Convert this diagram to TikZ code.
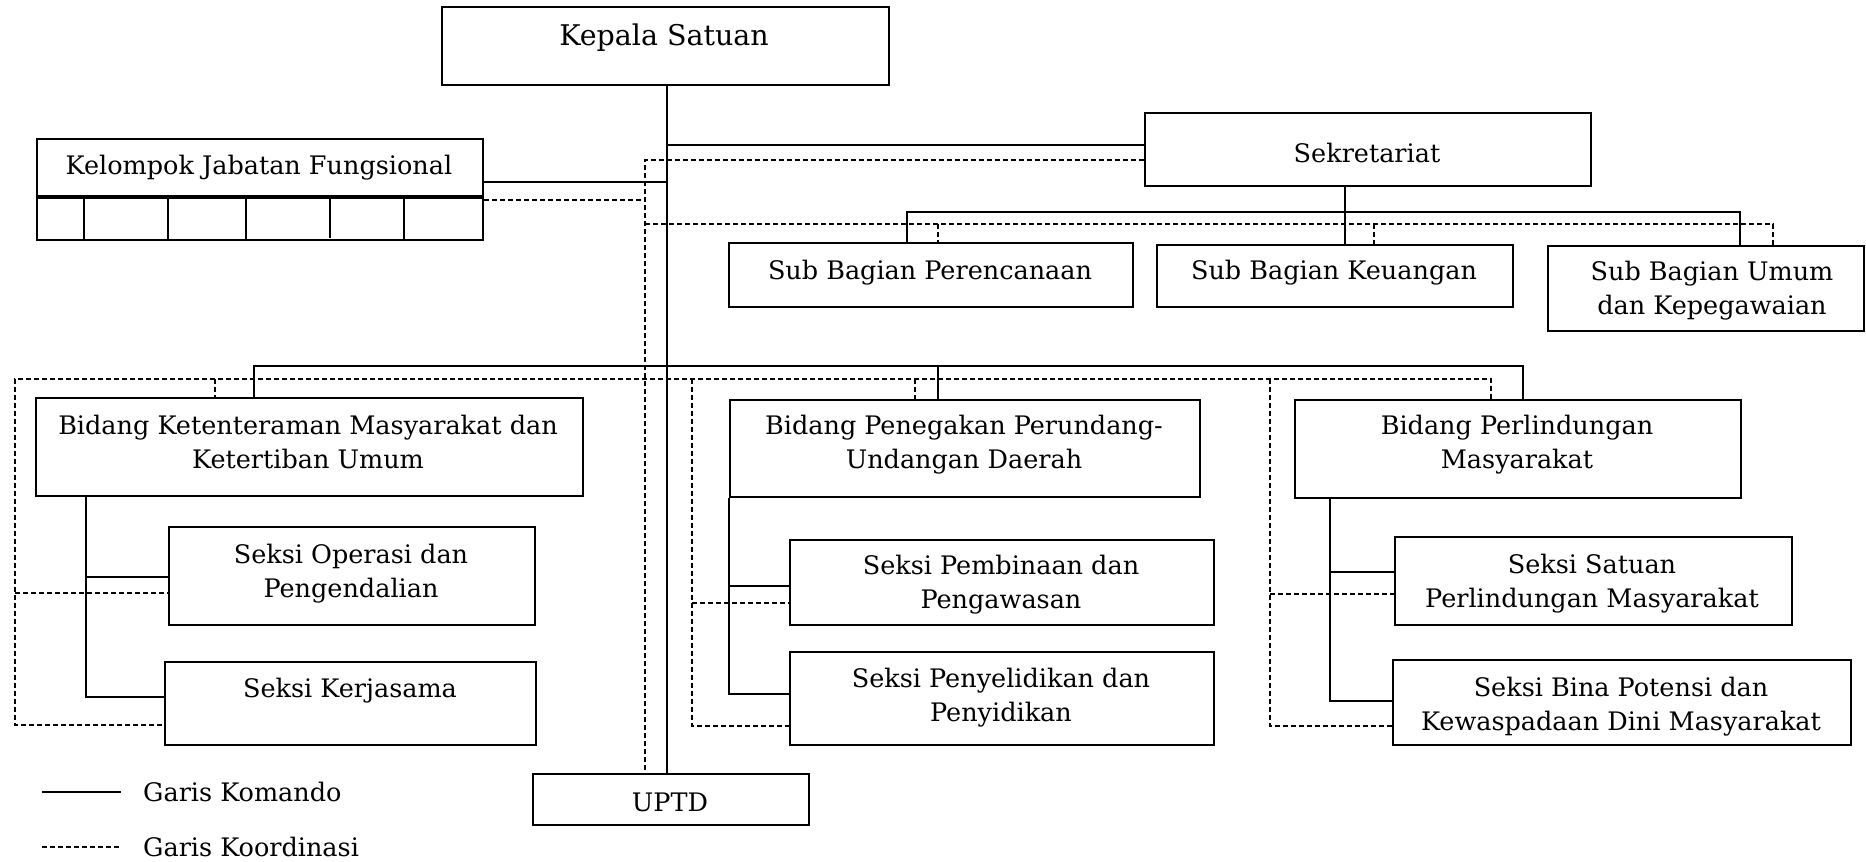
\documentclass[tikz,border=0pt]{standalone}
\usepackage{fontspec}
\setmainfont{DejaVu Serif}
\usetikzlibrary{calc}
\begin{document}
\begin{tikzpicture}[x=1pt,y=-1pt,
  box/.style={draw, line width=2pt, inner sep=0pt, anchor=north west},
  txt/.style={font=\fontsize{25.5}{34}\selectfont, align=center, anchor=base, inner sep=0pt},
  cmd/.style={line width=1.2pt},
  crd/.style={line width=1.1pt, dash pattern=on 5pt off 3pt}]
\useasboundingbox (0,0) rectangle (1866,862);
% boxes
\node[box, minimum width=447pt, minimum height=78pt] (kepala) at (441,6) {};
\node[box, minimum width=446pt, minimum height=57pt] (kjf) at (36,138) {};
\node[box, minimum width=446pt, minimum height=42pt] (kjfc) at (36,197) {};
\node[box, minimum width=446pt, minimum height=73pt] (sekr) at (1144,112) {};
\node[box, minimum width=404pt, minimum height=64pt] (perenc) at (728,242) {};
\node[box, minimum width=356pt, minimum height=62pt] (keu) at (1156,244) {};
\node[box, minimum width=316pt, minimum height=85pt] (umum) at (1547,245) {};
\node[box, minimum width=547pt, minimum height=98pt] (bid1) at (35,397) {};
\node[box, minimum width=470pt, minimum height=97pt] (bid2) at (729,399) {};
\node[box, minimum width=446pt, minimum height=98pt] (bid3) at (1294,399) {};
\node[box, minimum width=366pt, minimum height=98pt] (op) at (168,526) {};
\node[box, minimum width=371pt, minimum height=83pt] (ker) at (164,661) {};
\node[box, minimum width=424pt, minimum height=85pt] (pemb) at (789,539) {};
\node[box, minimum width=424pt, minimum height=93pt] (peny) at (789,651) {};
\node[box, minimum width=397pt, minimum height=88pt] (sat) at (1394,536) {};
\node[box, minimum width=458pt, minimum height=85pt] (bina) at (1392,659) {};
\node[box, minimum width=276pt, minimum height=51pt] (uptd) at (532,773) {};
% KJF cells
\foreach \cx/\nm in {84/c1,168/c2,246/c3,404/c5}{
  \coordinate (\nm) at (\cx,0);
  \draw[line width=1.6pt] (kjfc.north -| \nm) -- (kjfc.south -| \nm);
}
\coordinate (c4) at (330,0);
\draw[line width=1.4pt] (kjfc.north -| c4) -- ($(kjfc.south -| c4)+(0,-3)$);
% texts
\node[txt, font=\fontsize{28.5}{34}\selectfont] (t-kepala) at (664,45) {Kepala Satuan};
\node[txt] (t-kjf) at (259,174) {Kelompok Jabatan Fungsional};
\node[txt] (t-sekr) at (1367,162) {Sekretariat};
\node[txt] (t-perenc) at (930,279) {Sub Bagian Perencanaan};
\node[txt] (t-keu) at (1334,279) {Sub Bagian Keuangan};
\node[txt] (t-umum) at (1712,314) {Sub Bagian Umum\\dan Kepegawaian};
\node[txt] (t-bid1) at (308,468) {Bidang Ketenteraman Masyarakat dan\\Ketertiban Umum};
\node[txt] (t-bid2) at (964,468) {Bidang Penegakan Perundang-\\Undangan Daerah};
\node[txt] (t-bid3) at (1517,468) {Bidang Perlindungan\\Masyarakat};
\node[txt] (t-op) at (351,597) {Seksi Operasi dan\\Pengendalian};
\node[txt] (t-ker) at (350,697) {Seksi Kerjasama};
\node[txt] (t-pemb) at (1001,608) {Seksi Pembinaan dan\\Pengawasan};
\node[txt] (t-peny) at (1001,721) {Seksi Penyelidikan dan\\Penyidikan};
\node[txt] (t-sat) at (1592,607) {Seksi Satuan\\Perlindungan Masyarakat};
\node[txt] (t-bina) at (1621,730) {Seksi Bina Potensi dan\\Kewaspadaan Dini Masyarakat};
\node[txt] (t-uptd) at (670,811) {UPTD};
% helper coordinates
\foreach \n/\v in {sp/667,dsp/645,v907/907,v1345/1345,v1740/1740,v254/254,v938/938,v1523/1523,
  v86/86,v729/729,v1330/1330,v15/15,v692/692,v1270/1270,v215/215,v915/915,v1491/1491,v1374/1374,v1773/1773}
  {\coordinate (\n) at (\v,0);}
\foreach \n/\v in {h145/145,h160/160,h182/182,h200/200,h212/212,h224/224,h366/366,h379/379,
  h577/577,h593/593,h697/697,h725/725,h586/586,h603/603,h694/694,h726/726,h572/572,h594/594,h701/701}
  {\coordinate (\n) at (0,\v);}
% command lines
\draw[cmd] (kepala.south -| sp) -- (uptd.north -| sp);
\draw[cmd] (sp |- h145) -- (sekr.west |- h145);
\draw[cmd] (kjf.east |- h182) -- (sp |- h182);
\draw[cmd] (sekr.south -| v1345) -- (keu.north -| v1345);
\draw[cmd] (perenc.north -| v907) -- (v907 |- h212) -- (v1740 |- h212) -- (umum.north -| v1740);
\draw[cmd] (bid1.north -| v254) -- (v254 |- h366) -- (v1523 |- h366) -- (bid3.north -| v1523);
\draw[cmd] (v938 |- h366) -- (bid2.north -| v938);
\draw[cmd] (bid1.south -| v86) -- (v86 |- h697) -- (ker.west |- h697);
\draw[cmd] (v86 |- h577) -- (op.west |- h577);
\draw[cmd] (bid2.south -| v729) -- (v729 |- h694) -- (peny.west |- h694);
\draw[cmd] (v729 |- h586) -- (pemb.west |- h586);
\draw[cmd] (bid3.south -| v1330) -- (v1330 |- h701) -- (bina.west |- h701);
\draw[cmd] (v1330 |- h572) -- (sat.west |- h572);
% coordination lines
\draw[crd] (sekr.west |- h160) -- (dsp |- h160) -- (uptd.north -| dsp);
\draw[crd] (kjfc.east |- h200) -- (dsp |- h200);
\draw[crd] (dsp |- h224) -- (v1773 |- h224) -- (umum.north -| v1773);
\draw[crd] (v938 |- h224) -- (perenc.north -| v938);
\draw[crd] (v1374 |- h224) -- (keu.north -| v1374);
\draw[crd] (bid3.north -| v1491) -- (v1491 |- h379) -- (v15 |- h379) -- (v15 |- h725) -- (ker.west |- h725);
\draw[crd] (v15 |- h593) -- (op.west |- h593);
\draw[crd] (v215 |- h379) -- (bid1.north -| v215);
\draw[crd] (v915 |- h379) -- (bid2.north -| v915);
\draw[crd] (v692 |- h379) -- (v692 |- h726) -- (peny.west |- h726);
\draw[crd] (v692 |- h603) -- (pemb.west |- h603);
\draw[crd] (v1270 |- h379) -- (v1270 |- h726) -- (bina.west |- h726);
\draw[crd] (v1270 |- h594) -- (sat.west |- h594);
% legend
\coordinate (l1a) at (42,792); \coordinate (l1b) at (121,792);
\coordinate (l2a) at (42,847); \coordinate (l2b) at (121,847);
\draw[cmd] (l1a) -- (l1b);
\draw[crd] (l2a) -- (l2b);
\node[txt, anchor=base west] (t-leg1) at (143,801) {Garis Komando};
\node[txt, anchor=base west] (t-leg2) at (143,856) {Garis Koordinasi};
\end{tikzpicture}
\end{document}
